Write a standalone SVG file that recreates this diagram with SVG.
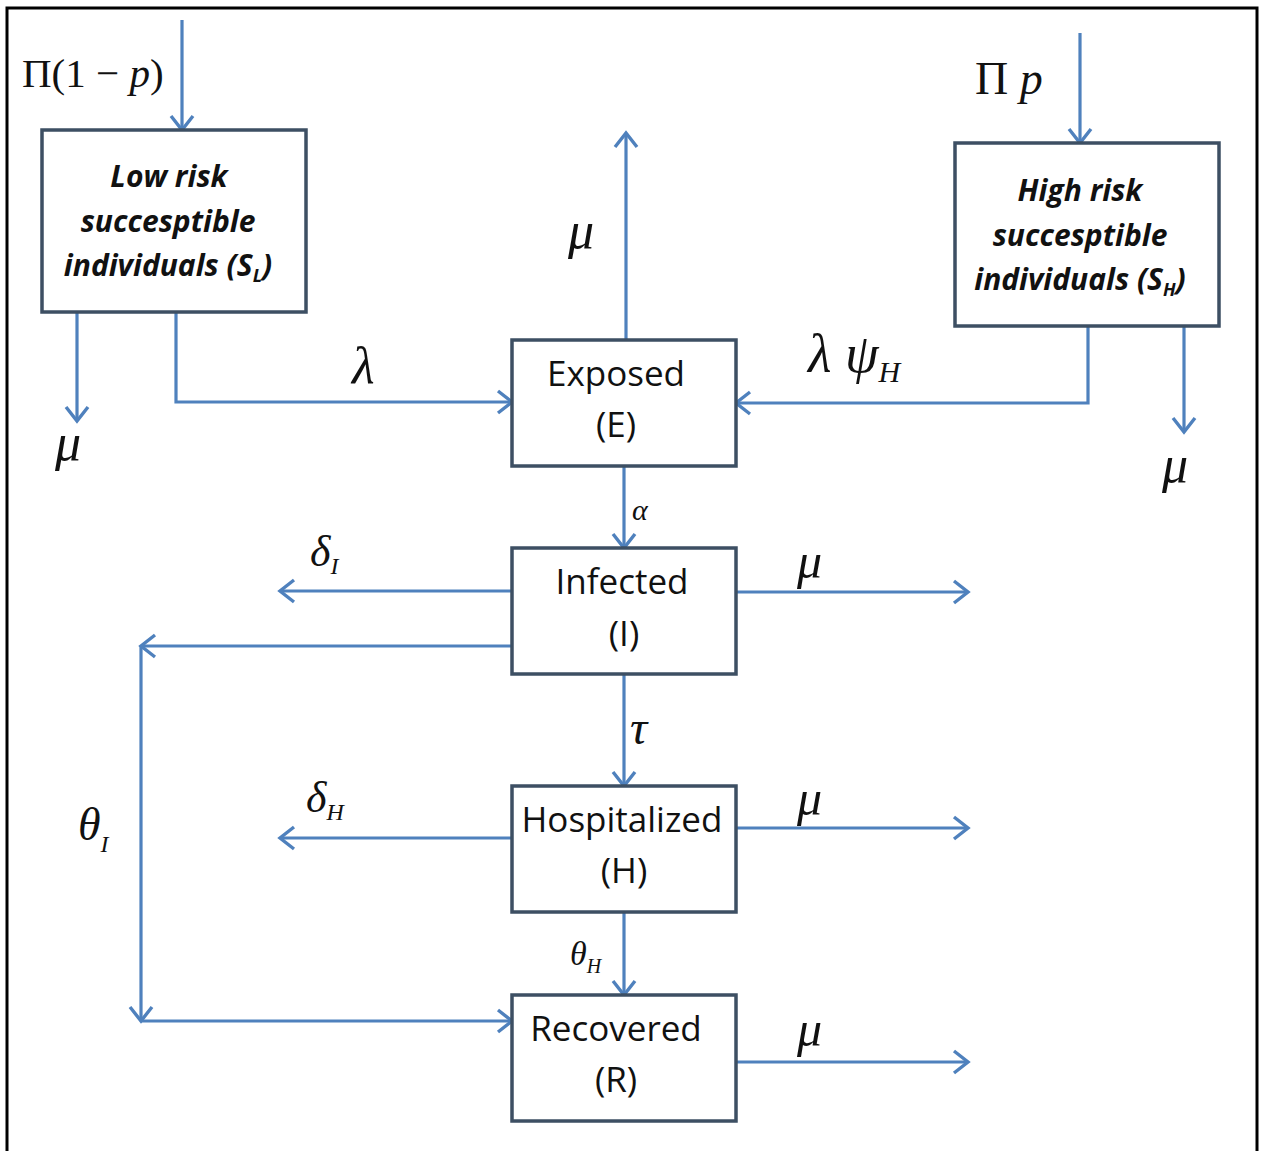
<svg xmlns="http://www.w3.org/2000/svg" width="1264" height="1151" viewBox="0 0 1264 1151">
<defs>
<marker id="ah" markerUnits="userSpaceOnUse" markerWidth="24" markerHeight="28" viewBox="0 0 24 28" refX="20" refY="14" orient="auto">
<path d="M6,3 L20,14 L6,25" fill="none" stroke="#4f81bd" stroke-width="3.4"/>
</marker>
<style>
.box{fill:#fff;stroke:#3d4f63;stroke-width:3.5}
.c{fill:none;stroke:#4f81bd;stroke-width:3.2;marker-end:url(#ah)}
.t{font-family:"Open Sans","Lato",sans-serif;font-size:35px;fill:#111;text-anchor:middle}
.ti{font-family:"Open Sans","Lato",sans-serif;font-size:30px;font-style:italic;font-weight:bold;fill:#111;text-anchor:middle}
.g{font-family:"Liberation Serif","Times New Roman",serif;font-style:italic;fill:#111}
.m{font-family:"Liberation Serif","Times New Roman",serif;fill:#111}
</style>
</defs>
<rect x="7" y="8" width="1250" height="1160" fill="none" stroke="#000" stroke-width="3"/>
<g id="connectors">
<path class="c" d="M182,20 V130"/>
<path class="c" d="M1080,33 V143"/>
<path class="c" d="M77,312 V421"/>
<path class="c" d="M176,312 V402 H512"/>
<path class="c" d="M1088,326 V403 H736"/>
<path class="c" d="M1184,326 V432"/>
<path class="c" d="M626,340 V133"/>
<path class="c" d="M624,466 V548"/>
<path class="c" d="M512,591 H280"/>
<path class="c" d="M736,592 H968"/>
<path class="c" d="M512,646 H141"/>
<path class="c" d="M141,646 V1021"/>
<path class="c" d="M141,1021 H512"/>
<path class="c" d="M624,674 V786"/>
<path class="c" d="M512,838 H280"/>
<path class="c" d="M736,828 H968"/>
<path class="c" d="M624,912 V995"/>
<path class="c" d="M736,1062 H968"/>
</g>
<g id="SL">
<rect class="box" x="42" y="130" width="264" height="182"/>
<text class="ti" x="169" y="187">Low  risk</text>
<text class="ti" x="168" y="232">succesptible</text>
<text class="ti" x="168" y="276">individuals (S<tspan font-size="18" dy="6">L</tspan><tspan dy="-6">)</tspan></text>
</g>
<g id="SH">
<rect class="box" x="955" y="143" width="264" height="183"/>
<text class="ti" x="1080" y="201">High  risk</text>
<text class="ti" x="1080" y="246">succesptible</text>
<text class="ti" x="1080" y="290">individuals (S<tspan font-size="18" dy="6">H</tspan><tspan dy="-6">)</tspan></text>
</g>
<g id="E">
<rect class="box" x="512" y="340" width="224" height="126"/>
<text class="t" x="616" y="386">Exposed</text>
<text class="t" x="616" y="437">(E)</text>
</g>
<g id="I">
<rect class="box" x="512" y="548" width="224" height="126"/>
<text class="t" x="622" y="594">Infected</text>
<text class="t" x="624" y="646">(I)</text>
</g>
<g id="H">
<rect class="box" x="512" y="786" width="224" height="126"/>
<text class="t" x="622" y="832">Hospitalized</text>
<text class="t" x="624" y="883">(H)</text>
</g>
<g id="R">
<rect class="box" x="512" y="995" width="224" height="126"/>
<text class="t" x="616" y="1041">Recovered</text>
<text class="t" x="616" y="1092">(R)</text>
</g>
<g id="labels">
<text class="m" x="22" y="87" font-size="41">Π(1 − <tspan font-style="italic">p</tspan>)</text>
<text class="m" x="975" y="94" font-size="46">Π <tspan font-style="italic">p</tspan></text>
<text class="g" x="55" y="460" font-size="52">μ</text>
<text class="g" x="352" y="383" font-size="52">λ</text>
<text class="g" x="808" y="372" font-size="54">λ ψ<tspan font-size="30" dy="10">H</tspan></text>
<text class="g" x="1162" y="482" font-size="52">μ</text>
<text class="g" x="568" y="248" font-size="52">μ</text>
<text class="g" x="632" y="520" font-size="30">α</text>
<text class="g" x="310" y="566" font-size="44">δ<tspan font-size="24" dy="8">I</tspan></text>
<text class="g" x="797" y="578" font-size="50">μ</text>
<text class="g" x="630" y="744" font-size="48">τ</text>
<text class="g" x="306" y="812" font-size="44">δ<tspan font-size="24" dy="8">H</tspan></text>
<text class="g" x="797" y="815" font-size="50">μ</text>
<text class="g" x="78" y="840" font-size="46">θ<tspan font-size="24" dy="12">I</tspan></text>
<text class="g" x="570" y="965" font-size="34">θ<tspan font-size="20" dy="8">H</tspan></text>
<text class="g" x="797" y="1046" font-size="50">μ</text>
</g>
</svg>
